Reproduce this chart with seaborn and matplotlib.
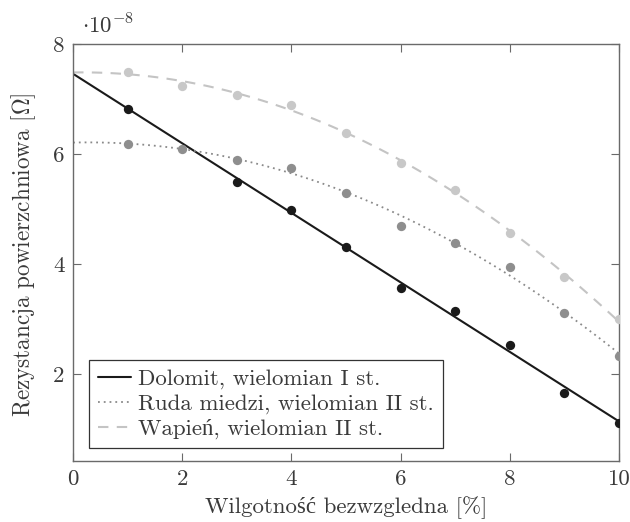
import numpy as np
import pandas as pd
import matplotlib
matplotlib.use("Agg")
import matplotlib.pyplot as plt
import seaborn as sns

# Data (values in units of 1e-8 Ohm)
x_dolomit = [1, 3, 4, 5, 6, 7, 8, 9, 10]
y_dolomit = [6.82, 5.50, 4.99, 4.31, 3.57, 3.14, 2.53, 1.66, 1.11]
x_ruda = [1, 2, 3, 4, 5, 6, 7, 8, 9, 10]
y_ruda = [6.19, 6.09, 5.89, 5.74, 5.30, 4.70, 4.39, 3.95, 3.11, 2.33]
x_wapien = [1, 2, 3, 4, 5, 6, 7, 8, 9, 10]
y_wapien = [7.49, 7.24, 7.08, 6.90, 6.39, 5.84, 5.35, 4.56, 3.77, 3.00]
labels = ["Dolomit, wielomian I st.",
          "Ruda miedzi, wielomian II st.",
          "Wapień, wielomian II st."]
orders = [1, 2, 2]
x_ticks = [0, 2, 4, 6, 8, 10]
y_ticks = [2, 4, 6, 8]
xlabel = "Wilgotność bezwzgledna [%]"
ylabel = r"Rezystancja powierzchniowa [$\Omega$]"
offset_label = r"$\cdot10^{-8}$"

sns.set_theme(style="white")
plt.rcParams["font.family"] = ["cmr10", "Liberation Serif", "DejaVu Serif"]
plt.rcParams["mathtext.fontset"] = "cm"
plt.rcParams["axes.formatter.use_mathtext"] = True
plt.rcParams["axes.unicode_minus"] = False

text_color = "#3a3a3a"
spine_color = "#6a6a6a"
fs = 16

fig = plt.figure(figsize=(6.3, 5.22), dpi=100)
ax = fig.add_axes([0.116, 0.117, 0.9825 - 0.116, 0.9157 - 0.117])
ax.set_xlim(0, 10)
ax.set_ylim(0.42, 8.0)

series = [
    (x_dolomit, y_dolomit, "#1a1a1a", "#1a1a1a", "-", 1.5),
    (x_ruda, y_ruda, "#8e8e8e", "#8a8a8a", (0, (1, 2.2)), 1.3),
    (x_wapien, y_wapien, "#c8c8c8", "#c4c4c4", (0, (5, 4)), 1.5),
]
for (xs, ys, pc, lc, ls, lw), lab, order in zip(series, labels, orders):
    df = pd.DataFrame({"x": xs, "y": ys})
    sns.regplot(data=df, x="x", y="y", order=order, ci=None, truncate=False,
                ax=ax,
                scatter_kws=dict(color=pc, s=45, alpha=1, linewidths=0, zorder=3),
                line_kws=dict(color=lc, linestyle=ls, linewidth=lw, label=lab, zorder=2))

ax.set_xlim(0, 10)
ax.set_ylim(0.42, 8.0)
ax.set_xticks(x_ticks)
ax.set_yticks(y_ticks)
ax.set_xticklabels([str(t) for t in x_ticks])
ax.set_yticklabels([str(t) for t in y_ticks])
for sp in ax.spines.values():
    sp.set_color(spine_color)
    sp.set_linewidth(1.0)

xl = ax.set_xlabel(xlabel, fontsize=fs, color=text_color, va="baseline")
yl = ax.set_ylabel(ylabel, fontsize=fs, color=text_color)
ax.xaxis.set_label_coords(0.5, -(513 - 461) / 417)
ax.yaxis.set_label_coords(-(73 - 38) / 546, (461 - 255) / 417)
off = ax.text((82 - 73) / 546, (461 - 33) / 417, offset_label,
              transform=ax.transAxes, fontsize=fs, color=text_color,
              ha="left", va="baseline")

leg = ax.legend(loc="lower left", bbox_to_anchor=((89 - 73) / 546, (461 - 448) / 417),
                fontsize=fs, frameon=True, fancybox=False, framealpha=1,
                edgecolor="#333333", handlelength=1.5, handletextpad=0.3,
                borderpad=0.4, labelspacing=0.22, borderaxespad=0)
leg.get_frame().set_linewidth(0.9)
for t in leg.get_texts():
    t.set_color(text_color)

# scale text sizes so the rendered text spans match the reference's extents (px)
fig.canvas.draw()
w_leg = leg.get_texts()[0].get_window_extent().width
w_xl = xl.get_window_extent().width
h_yl = yl.get_window_extent().height
fs_h = fs * 0.5 * (245 / w_leg + 280 / w_xl)
fs_v = fs * 325 / h_yl
for t in leg.get_texts():
    t.set_fontsize(fs_h)
xl.set_fontsize(fs_h)
yl.set_fontsize(fs_v)
off.set_fontsize(fs_h)
ax.tick_params(direction="in", length=6, width=0.8, color=spine_color,
               top=True, right=True, bottom=True, left=True,
               labelsize=fs_h, labelcolor=text_color, pad=6)

fig.savefig("out.png", dpi=100)
